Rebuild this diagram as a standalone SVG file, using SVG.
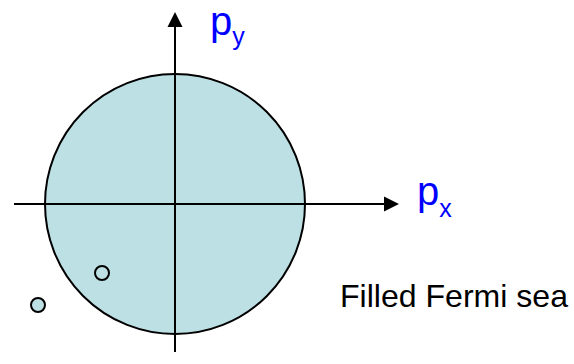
<svg xmlns="http://www.w3.org/2000/svg" width="574" height="364" viewBox="0 0 574 364">
<style>
.sea{fill:#bde0e4;stroke:#000;stroke-width:2}
.ax{stroke:#000;stroke-width:2;fill:none}
.lbl{font-family:"Liberation Sans",Arial,sans-serif;fill:#0000ff}
.txt{font-family:"Liberation Sans",Arial,sans-serif;fill:#000}
</style>
<rect width="574" height="364" fill="#fff"/>
<g id="fermi-sea"><circle class="sea" cx="175" cy="204" r="130"/></g>
<g id="hole"><circle class="sea" cx="102" cy="273" r="7"/></g>
<g id="particle"><circle class="sea" cx="38" cy="305" r="7"/></g>
<g id="connectors">
<line class="ax" x1="175" y1="352" x2="175" y2="24"/>
<polygon points="175,12 167.5,27 182.5,27" fill="#000"/>
<line class="ax" x1="14" y1="204" x2="387" y2="204"/>
<polygon points="399,204 384,196.5 384,211.5" fill="#000"/>
</g>
<g id="py-label"><text class="lbl" x="210" y="35" font-size="40">p<tspan font-size="25" dy="10">y</tspan></text></g>
<g id="px-label"><text class="lbl" x="417" y="205" font-size="40">p<tspan font-size="25" dy="12">x</tspan></text></g>
<g id="caption"><text class="txt" x="340" y="307" font-size="22" textLength="228" lengthAdjust="spacingAndGlyphs" style="font-size:31.5px">Filled Fermi sea</text></g>
</svg>
